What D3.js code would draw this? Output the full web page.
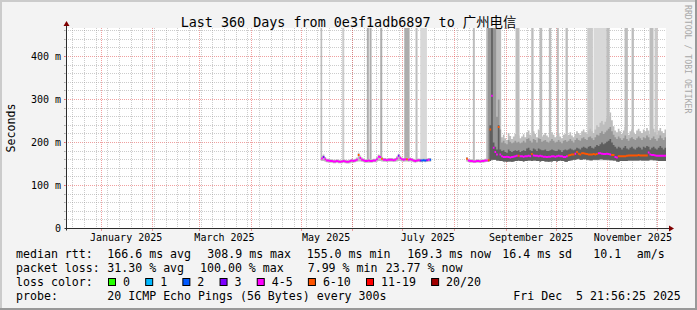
<!DOCTYPE html>
<html>
<head>
<meta charset="utf-8">
<script src="https://cdn.jsdelivr.net/npm/d3@7/dist/d3.min.js"></script>
<style>
body { margin: 0; background: #f3f3f3; }
text { font-family: "DejaVu Sans Mono", "Noto Sans CJK SC", monospace; white-space: pre; }
</style>
</head>
<body>
<div id="chart"></div>
<script>
// ---- data ----
var endTime = new Date(Date.UTC(2025, 11, 5, 21, 56, 25));
var rangeDays = 360;

// two runs of data, one value per day
var startA = "2025-05-13", startB = "2025-08-08";

var medianA = [163,166,161,158,158,157,157,156,156,157,
               156,155,156,157,156,155,155,157,158,157,
               158,160,171,164,160,159,157,157,158,157,
               157,158,158,161,167,166,162,160,160,159,
               160,160,160,159,160,163,169,164,161,160,
               161,161,160,161,160,158,157,158,159,158,
               158,159,158,159,160,160];
var lossA   = [4,3,5,5,5,5,5,5,5,5, 5,5,5,5,5,5,5,5,5,5,
               5,5,7,5,5,5,5,5,5,5, 5,5,5,5,5,5,6,5,5,5,
               5,5,5,5,5,5,3,5,5,5, 5,7,5,5,5,5,5,5,5,3,
               2,2,2,3,4,2];
var lowA    = [157,157,155,154,153,153,153,152,152,153,
               152,152,152,153,152,151,151,152,153,153,
               154,155,156,156,155,154,153,153,153,153,
               153,154,154,155,157,157,156,155,155,155,
               155,155,155,155,155,156,157,157,156,155,
               156,156,155,156,155,154,153,154,155,154,
               154,155,154,155,155,155];
var highA   = [170,172,166,162,162,161,161,160,160,161,
               160,159,160,161,160,159,159,161,162,161,
               162,165,176,170,165,163,161,161,162,161,
               161,162,162,166,172,171,167,164,164,163,
               164,164,164,163,164,168,174,169,165,164,
               165,165,164,165,164,162,161,162,163,162,
               162,163,162,163,164,164];

var medianB = [162,158,157,157,156,156,157,157,156,157,
               157,158,158,159,230,309,188,178,172,236,
               172,168,166,166,167,166,165,166,167,168,
               169,169,168,168,167,168,168,169,168,173,
               170,169,169,168,169,168,167,167,166,167,
               167,168,168,167,168,169,168,168,166,166,
               168,170,171,172,172,174,178,174,172,175,
               175,174,173,172,172,172,173,172,173,175,
               175,174,173,173,174,173,172,171,171,166,
               165,168,168,168,168,168,169,170,170,170,
               170,170,170,171,170,170,170,170,170,177,
               172,171,171,170,169,169,169,169,169,169];
var lossB   = [7,5,5,4,5,5,4,5,5,5, 5,5,5,6,7,5,5,5,5,8,
               5,5,5,5,5,5,5,5,5,5, 5,6,5,5,5,5,5,5,5,7,
               5,5,5,5,5,5,5,5,5,5, 5,5,5,5,5,5,5,5,5,5,
               5,7,7,7,7,5,7,7,7,7, 7,7,7,7,7,7,7,7,7,5,
               5,5,5,5,5,5,5,7,7,5, 5,7,7,7,7,7,7,7,7,7,
               7,7,7,7,7,7,7,7,7,5, 5,5,5,5,5,5,5,5,5,5];
var lowB    = [156,154,153,153,153,153,153,153,153,153,
               153,154,155,155,157,160,160,160,158,158,
               157,157,156,156,155,156,156,155,156,157,
               157,158,157,157,156,157,157,158,158,157,
               158,158,157,157,156,157,157,156,156,155,
               156,156,157,157,156,157,158,157,157,155,
               155,157,158,159,160,160,161,162,160,160,
               161,161,160,160,159,159,160,160,160,160,
               161,161,160,160,160,160,159,159,158,158,
               156,155,157,157,157,157,157,158,158,158,
               158,158,158,158,159,158,158,158,158,158,
               160,160,159,159,158,157,157,157,157,157];
var p75B    = [null,null,null,null,null,null,null,null,null,null,
               null,null,null,null,240,500,200,190,184,240,
               184,180,182,178,176,184,180,178,180,182,
               180,182,178,180,182,180,186,188,182,180,
               186,184,180,186,184,182,182,184,180,180,
               182,184,182,180,180,184,182,178,182,184,
               182,184,186,184,182,184,188,186,184,188,
               190,188,186,190,192,188,186,190,194,192,
               196,200,196,198,202,204,208,200,194,190,
               186,190,188,184,188,192,186,184,188,190,
               186,184,188,190,188,184,190,188,192,190,
               184,188,190,186,184,188,192,188,184,188];
var p90B    = [null,null,null,null,null,null,null,null,null,null,
               null,null,null,500,500,500,500,500,260,300,
               230,200,204,198,196,206,202,198,200,204,
               200,202,198,200,204,200,208,210,204,200,
               208,206,200,210,208,202,204,206,202,200,
               204,208,204,200,202,206,202,198,204,206,
               202,204,208,204,200,206,210,206,204,210,
               212,208,206,212,214,210,206,212,218,216,
               222,226,220,224,228,232,236,226,218,212,
               208,214,210,206,210,216,208,204,210,212,
               208,206,210,214,210,206,212,210,216,212,
               206,210,214,208,204,210,216,210,206,212];
var highB   = [166,162,161,161,160,160,161,161,160,161,
               161,162,500,500,500,500,500,500,500,500,
               500,212,218,210,206,222,215,208,214,220,
               212,216,210,214,219,212,224,228,218,214,
               226,220,212,230,226,214,218,222,216,212,
               220,224,218,212,216,222,214,210,218,220,
               214,218,224,216,212,220,226,222,218,226,
               230,224,220,228,232,226,222,230,240,236,
               246,250,242,248,256,262,270,252,238,228,
               224,232,226,220,228,236,222,218,226,230,
               224,220,228,232,226,222,230,226,234,228,
               220,226,232,224,218,228,234,226,222,230];

// pings going off the top of the scale
var offScaleStart = ["2025-05-12T15:00","2025-05-25T16:00","2025-06-09T10:00","2025-06-11T01:00",
                     "2025-06-17T11:00","2025-07-01T21:00","2025-07-08T15:00","2025-07-11T11:00",
                     "2025-08-12T00:30","2025-09-06T15:00","2025-09-16T01:30","2025-09-21T01:00",
                     "2025-09-26T15:00","2025-10-01T10:00","2025-10-06T15:00","2025-10-19T16:00",
                     "2025-10-23T10:30","2025-10-31T01:30","2025-11-11T01:00","2025-11-15T06:00",
                     "2025-11-26T01:00","2025-11-29T01:00"];
var offScaleDays  = [1.0,1.2,1.2,1.2,1.2,3.2,1.2,4.0,1.2,2.4,1.4,1.6,1.4,1.2,1.4,3.4,7.6,2.0,2.0,1.4,2.4,2.0];
var offScalePings = [2,1,3,3,3,3,2,0,2,2,2,2,2,2,2,1,0,2,2,2,2,1];

var yTicks = [0, 100, 200, 300, 400];
var yTickLabels = ["0", "100 m", "200 m", "300 m", "400 m"];
var xLabelMonths = ["2025-01-01", "2025-03-01", "2025-05-01", "2025-07-01", "2025-09-01", "2025-11-01"];

var lossLabels = ["0", "1", "2", "3", "4-5", "6-10", "11-19", "20/20"];
var lossColors = ["#26ff00", "#00b8ff", "#0059ff", "#7e00ff", "#ff00fe", "#ff5500", "#ff0000", "#a10000"];

var rttStats  = ["166.6 ms avg", "308.9 ms max", "155.0 ms min", "169.3 ms now", "16.4 ms sd", "10.1", "am/s"];
var lossStats = ["31.30 % avg", "100.00 % max", " 7.99 % min", "23.77 % now"];
var probeText = "20 ICMP Echo Pings (56 Bytes) every 300s";
var dateText  = "Fri Dec  5 21:56:25 2025";

// ---- layout ----
var W = 697, H = 310;
var plot = { left: 66, top: 28, width: 600, height: 200 };

var parseDay = d3.utcParse("%Y-%m-%d");
var parseTime = d3.utcParse("%Y-%m-%dT%H:%M");
var startTime = d3.utcDay.offset(endTime, -rangeDays);

var x = d3.scaleUtc().domain([startTime, endTime]).range([plot.left, plot.left + plot.width]);
var y = d3.scaleLinear().domain([0, 465.1]).range([plot.top + plot.height + 0.5, plot.top + 0.5]);

var lossColor = d3.scaleThreshold().domain([1, 2, 3, 4, 6, 11, 20]).range(lossColors);
var offShade = d3.scaleOrdinal().domain([0, 1, 2, 3]).range(["#d8d8d8", "#cacaca", "#bdbdbd", "#adadad"]);

var svg = d3.select("#chart").append("svg")
    .attr("width", W)
    .attr("height", H);

// background + 3d frame
svg.append("rect").attr("width", W).attr("height", H).attr("fill", "#f3f3f3");
svg.append("path").attr("d", "M0,1H697M1,0V310").attr("stroke", "#cbcbcb").attr("stroke-width", 2);
svg.append("path").attr("d", "M0,309H697M696,0V310").attr("stroke", "#999999").attr("stroke-width", 2);

// canvas
svg.append("rect")
    .attr("x", plot.left).attr("y", plot.top)
    .attr("width", plot.width).attr("height", plot.height)
    .attr("fill", "#ffffff");

var crisp = function(v) { return Math.round(v - 0.5) + 0.5; };

// grid
var grid = svg.append("g");
var minorRGBA = "rgba(143,143,143,0.46)", majorRGBA = "rgba(222,48,48,0.46)";

d3.range(20, 465, 20).forEach(function(v) {
    var yy = crisp(y(v));
    var major = v % 100 === 0;
    grid.append("line")
        .attr("x1", plot.left - 2).attr("x2", plot.left + plot.width)
        .attr("y1", yy).attr("y2", yy)
        .attr("stroke", major ? majorRGBA : minorRGBA)
        .attr("stroke-dasharray", "1,1");
    grid.append("line")
        .attr("x1", plot.left - 2).attr("x2", plot.left)
        .attr("y1", yy).attr("y2", yy)
        .attr("stroke", major ? majorRGBA : minorRGBA);
});

d3.utcSunday.range(startTime, endTime).forEach(function(t) {
    var xx = crisp(x(t));
    grid.append("line")
        .attr("x1", xx).attr("x2", xx)
        .attr("y1", plot.top).attr("y2", plot.top + plot.height + 2)
        .attr("stroke", minorRGBA)
        .attr("stroke-dasharray", "1,1");
});
d3.utcMonth.range(startTime, endTime).forEach(function(t) {
    var xx = crisp(x(t));
    grid.append("line")
        .attr("x1", xx).attr("x2", xx)
        .attr("y1", plot.top).attr("y2", plot.top + plot.height + 2)
        .attr("stroke", majorRGBA)
        .attr("stroke-dasharray", "1,1");
    grid.append("line")
        .attr("x1", xx).attr("x2", xx)
        .attr("y1", plot.top + plot.height).attr("y2", plot.top + plot.height + 3)
        .attr("stroke", majorRGBA);
});

// data layers, clipped to canvas
svg.append("clipPath").attr("id", "clip")
    .append("rect")
    .attr("x", plot.left).attr("y", plot.top)
    .attr("width", plot.width).attr("height", plot.height);
var g = svg.append("g").attr("clip-path", "url(#clip)");

// off-scale columns
offScaleStart.forEach(function(s, i) {
    var t0 = parseTime(s);
    var t1 = new Date(t0.getTime() + offScaleDays[i] * 864e5);
    g.append("rect")
        .attr("x", x(t0)).attr("width", x(t1) - x(t0))
        .attr("y", plot.top).attr("height", y(158) - plot.top)
        .attr("fill", offShade(offScalePings[i]));
});

// turn a daily series into step points
function steps(start, lo, hi) {
    var s = parseDay(start), pts = [];
    lo.forEach(function(v, i) {
        var h = hi[i];
        var ok = v != null && h != null;
        pts.push({ t: d3.utcDay.offset(s, i), lo: v, hi: h, ok: ok });
        pts.push({ t: d3.utcDay.offset(s, i + 1), lo: v, hi: h, ok: ok });
    });
    return pts;
}

var band = d3.area()
    .defined(function(d) { return d.ok; })
    .x(function(d) { return x(d.t); })
    .y0(function(d) { return y(d.lo); })
    .y1(function(d) { return y(d.hi); });

var smoke = [
    { fill: "#bdbdbd", a: steps(startA, lowA, highA), b: steps(startB, lowB, highB) },
    { fill: "#969696", a: [], b: steps(startB, lowB, p90B) },
    { fill: "#5e5e5e", a: [], b: steps(startB, lowB, p75B) }
];
smoke.forEach(function(layer) {
    [layer.a, layer.b].forEach(function(pts) {
        if (!pts.length) return;
        g.append("path").attr("d", band(pts)).attr("fill", layer.fill);
    });
});

// median, coloured by packet loss (a 2px band like smokeping draws it)
var halfPx = y.invert(y(0) - 1);
function medianBands(start, med, loss) {
    var s = parseDay(start);
    lossColors.forEach(function(col) {
        var pts = [];
        med.forEach(function(v, i) {
            var ok = v != null && lossColor(loss[i]) === col;
            pts.push({ t: d3.utcDay.offset(s, i), lo: v - halfPx, hi: v + halfPx, ok: ok });
            pts.push({ t: d3.utcDay.offset(s, i + 1), lo: v - halfPx, hi: v + halfPx, ok: ok });
        });
        g.append("path").attr("d", band(pts)).attr("fill", col);
    });
}
medianBands(startA, medianA, lossA);
medianBands(startB, medianB, lossB);

// axes
var axisCol = "#2c2c2c", arrowCol = "#7f0000";
var x0 = plot.left + 0.5, yb = plot.top + plot.height + 0.5;
svg.append("line").attr("x1", x0 - 2).attr("x2", plot.left + plot.width + 4)
    .attr("y1", yb).attr("y2", yb).attr("stroke", axisCol);
svg.append("line").attr("x1", x0).attr("x2", x0)
    .attr("y1", yb + 2).attr("y2", plot.top - 4).attr("stroke", axisCol);
svg.append("path")
    .attr("d", "M" + (plot.left + plot.width + 3) + "," + (yb - 3) + "L" + (plot.left + plot.width + 8) + "," + yb +
               "L" + (plot.left + plot.width + 3) + "," + (yb + 3) + "Z")
    .attr("fill", arrowCol);
svg.append("path")
    .attr("d", "M" + (x0 - 3) + "," + (plot.top - 2) + "L" + x0 + "," + (plot.top - 7) +
               "L" + (x0 + 3) + "," + (plot.top - 2) + "Z")
    .attr("fill", arrowCol);

// tick labels
svg.selectAll(".ylab").data(yTicks).enter().append("text")
    .attr("x", 61).attr("y", function(d) { return y(d) + 3.5; })
    .attr("text-anchor", "end")
    .attr("font-size", "10px")
    .text(function(d, i) { return yTickLabels[i]; });

svg.selectAll(".xlab").data(xLabelMonths).enter().append("text")
    .attr("x", function(d) { return x(d3.utcDay.offset(parseDay(d), 15)); })
    .attr("y", 241)
    .attr("text-anchor", "middle")
    .attr("font-size", "10px")
    .text(function(d) { return d3.utcFormat("%B %Y")(parseDay(d)); });

// titles
svg.append("text")
    .attr("x", 348.5).attr("y", 26.5)
    .attr("text-anchor", "middle")
    .attr("font-size", "13.4px")
    .text("Last 360 Days from 0e3f1adb6897 to 广州电信");

svg.append("text")
    .attr("transform", "translate(14.5,128) rotate(-90)")
    .attr("text-anchor", "middle")
    .attr("font-size", "11.6px")
    .text("Seconds");

svg.append("text")
    .attr("transform", "translate(685,5) rotate(90)")
    .attr("font-size", "8.2px")
    .attr("fill", "#a8a8a8")
    .text("RRDTOOL / TOBI OETIKER");

// legend
var lg = svg.append("g").attr("font-size", "11.6px");
var rows = [257.7, 271.7, 285.7, 299.7];
function put(str, xx, row) {
    return lg.append("text").attr("x", xx).attr("y", rows[row]).text(str);
}
put("median rtt:", 16, 0);
[107.3, 207.3, 306.7, 407.3, 502.3, 593.3, 636.7].forEach(function(xx, i) { put(rttStats[i], xx, 0); });
put("packet loss:", 16, 1);
[107.3, 200, 300.7, 385.7].forEach(function(xx, i) { put(lossStats[i], xx, 1); });
put("loss color:", 16, 2);
var bx = 108;
lossLabels.forEach(function(lab, i) {
    lg.append("rect")
        .attr("x", bx + 0.5).attr("y", 278.5)
        .attr("width", 7).attr("height", 7)
        .attr("fill", lossColors[i]).attr("stroke", "#000");
    var t = put(lab, bx + 15, 2);
    bx = bx + 15 + t.node().getComputedTextLength() + 15.2;
});
put("probe:", 16, 3);
put(probeText, 107.3, 3);
put(dateText, 513.3, 3);
</script>
</body>
</html>
